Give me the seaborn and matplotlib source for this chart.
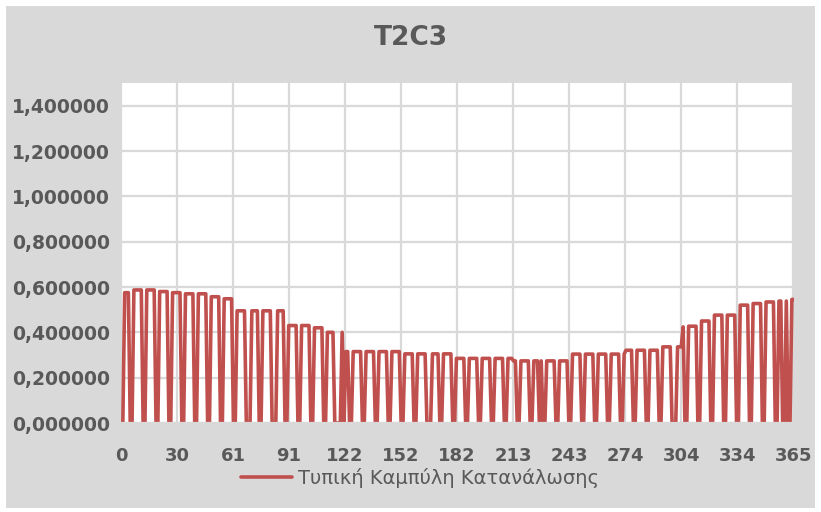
import numpy as np
import pandas as pd
import seaborn as sns
import matplotlib
matplotlib.use("Agg")
import matplotlib.pyplot as plt
from matplotlib.patches import Rectangle

# ---- data (daily values, day 1..365) ----
jan = [0, .575, .575, .575, 0, 0, .587, .587, .587, .587, .587, 0, 0, .587, .587, .587, .587, .587, 0, 0,
       .58, .58, .58, .58, .58, 0, 0, .575, .575, .575, .575]
feb = [.575, 0, 0, .57, .57, .57, .57, .57, 0, 0, .57, .57, .57, .57, .57, 0, 0, .557, .557, .557, .557, .557,
       0, 0, .548, .548, .548, .548]
mar = [.548, 0, 0, .495, .495, .495, .495, .495, 0, 0, 0, .495, .495, .495, .495, 0, 0, .495, .495, .495, .495, .495,
       0, 0, 0, .495, .495, .495, .495, 0, 0]
apr = [.43, .43, .43, .43, .43, 0, 0, .43, .43, .43, .43, .43, 0, 0, .42, .42, .42, .42, .42, 0, 0,
       .40, .40, .40, .40, 0, 0, 0, 0, .40]
may = [0, .315, .315, 0, 0, .315, .315, .315, .315, .315, 0, 0, .315, .315, .315, .315, .315, 0, 0,
       .315, .315, .315, .315, .315, 0, 0, .315, .315, .315, .315, .315]
jun = [0, 0, .305, .305, .305, .305, .305, 0, 0, .305, .305, .305, .305, .305, 0, 0, 0, .305, .305, .305, .305,
       0, 0, .305, .305, .305, .305, .305, 0, 0]
jul = [.285, .285, .285, .285, .285, 0, 0, .285, .285, .285, .285, .285, 0, 0, .285, .285, .285, .285, .285, 0, 0,
       .285, .285, .285, .285, .285, 0, 0, .285, .285, .285]
aug = [.274, .274, 0, 0, .274, .274, .274, .274, .274, 0, 0, .274, .274, .274, 0, .274, 0, 0,
       .274, .274, .274, .274, .274, 0, 0, .274, .274, .274, .274, .274, 0]
sep = [0, .304, .304, .304, .304, .304, 0, 0, .304, .304, .304, .304, .304, 0, 0, .304, .304, .304, .304, .304, 0, 0,
       .304, .304, .304, .304, .304, 0, 0, .304]
octo = [.321, .321, .321, .321, 0, 0, .321, .321, .321, .321, .321, 0, 0, .321, .321, .321, .321, .321, 0, 0,
        .336, .336, .336, .336, .336, 0, 0, 0, .336, .336, .336]
nov = [.424, 0, 0, .427, .427, .427, .427, .427, 0, 0, .45, .45, .45, .45, .45, 0, 0, .476, .476, .476, .476, .476,
       0, 0, .476, .476, .476, .476, .476, 0]
dec = [0, .52, .52, .52, .52, .52, 0, 0, .527, .527, .527, .527, .527, 0, 0, .534, .534, .534, .534, .534, 0, 0,
       .538, .538, 0, 0, .538, 0, 0, .545, .545]

values = jan + feb + mar + apr + may + jun + jul + aug + sep + octo + nov + dec
days = list(range(1, len(values) + 1))

x_tick_pos = [0, 30.4, 60.8, 91.2, 121.6, 152.0, 182.4, 212.8, 243.2, 273.6, 304.0, 334.4, 364.8]
x_tick_labels = ["0", "30", "61", "91", "122", "152", "182", "213", "243", "274", "304", "334", "365"]
y_ticks = [0.0, 0.2, 0.4, 0.6, 0.8, 1.0, 1.2, 1.4]

title = "T2C3"
series_name = "Τυπική Καμπύλη Κατανάλωσης"

df = pd.DataFrame({"day": days, "value": values})

# ---- styling ----
sns.set_theme(style="white")
plt.rcParams["font.family"] = ["DejaVu Sans"]
grey_txt = "#595959"
line_col = "#C0504D"

W, H = 821, 512
fig = plt.figure(figsize=(W / 100, H / 100), dpi=100)
fig.patch.set_facecolor("white")
fig.add_artist(Rectangle((6 / W, 1 - 508 / H), (815 - 6) / W, (508 - 6) / H,
                         transform=fig.transFigure, facecolor="#D9D9D9",
                         edgecolor="none", zorder=0))

ax = fig.add_axes([121 / W, 1 - 423 / H, (793.7 - 121) / W, (423 - 83) / H])
ax.set_facecolor("white")

sns.lineplot(data=df, x="day", y="value", ax=ax, color=line_col, linewidth=2.6,
             label=series_name, legend=False)

ax.set_xlim(0, 365)
ax.set_ylim(0, 1.5)
ax.set_xticks(x_tick_pos)
ax.set_xticklabels(x_tick_labels)
ax.set_yticks(y_ticks)
ax.set_yticklabels([f"{v:.6f}".replace(".", ",") for v in y_ticks])
ax.grid(True, color="#D9D9D9", linewidth=1.6)
ax.set_axisbelow(True)
for s in ["top", "right", "left"]:
    ax.spines[s].set_visible(False)
ax.spines["bottom"].set_color("#D9D9D9")
ax.spines["bottom"].set_linewidth(1.6)
ax.tick_params(axis="both", length=0, labelcolor=grey_txt)
ax.tick_params(axis="x", pad=17, labelsize=13)
ax.tick_params(axis="y", pad=8, labelsize=13.5)
for lbl in ax.get_xticklabels() + ax.get_yticklabels():
    lbl.set_fontweight("bold")
ax.set_xlabel("")
ax.set_ylabel("")

fig.text(0.5, 1 - 38 / H, title, ha="center", va="center", fontsize=19,
         fontweight="bold", color=grey_txt)

handles, labels = ax.get_legend_handles_labels()
fig.legend(handles, labels, loc="center", bbox_to_anchor=(420 / W, 1 - 478 / H),
           frameon=False, fontsize=14, labelcolor=grey_txt, handlelength=2.6,
           handletextpad=0.3)

fig.savefig("out.png", dpi=100, facecolor="white")
